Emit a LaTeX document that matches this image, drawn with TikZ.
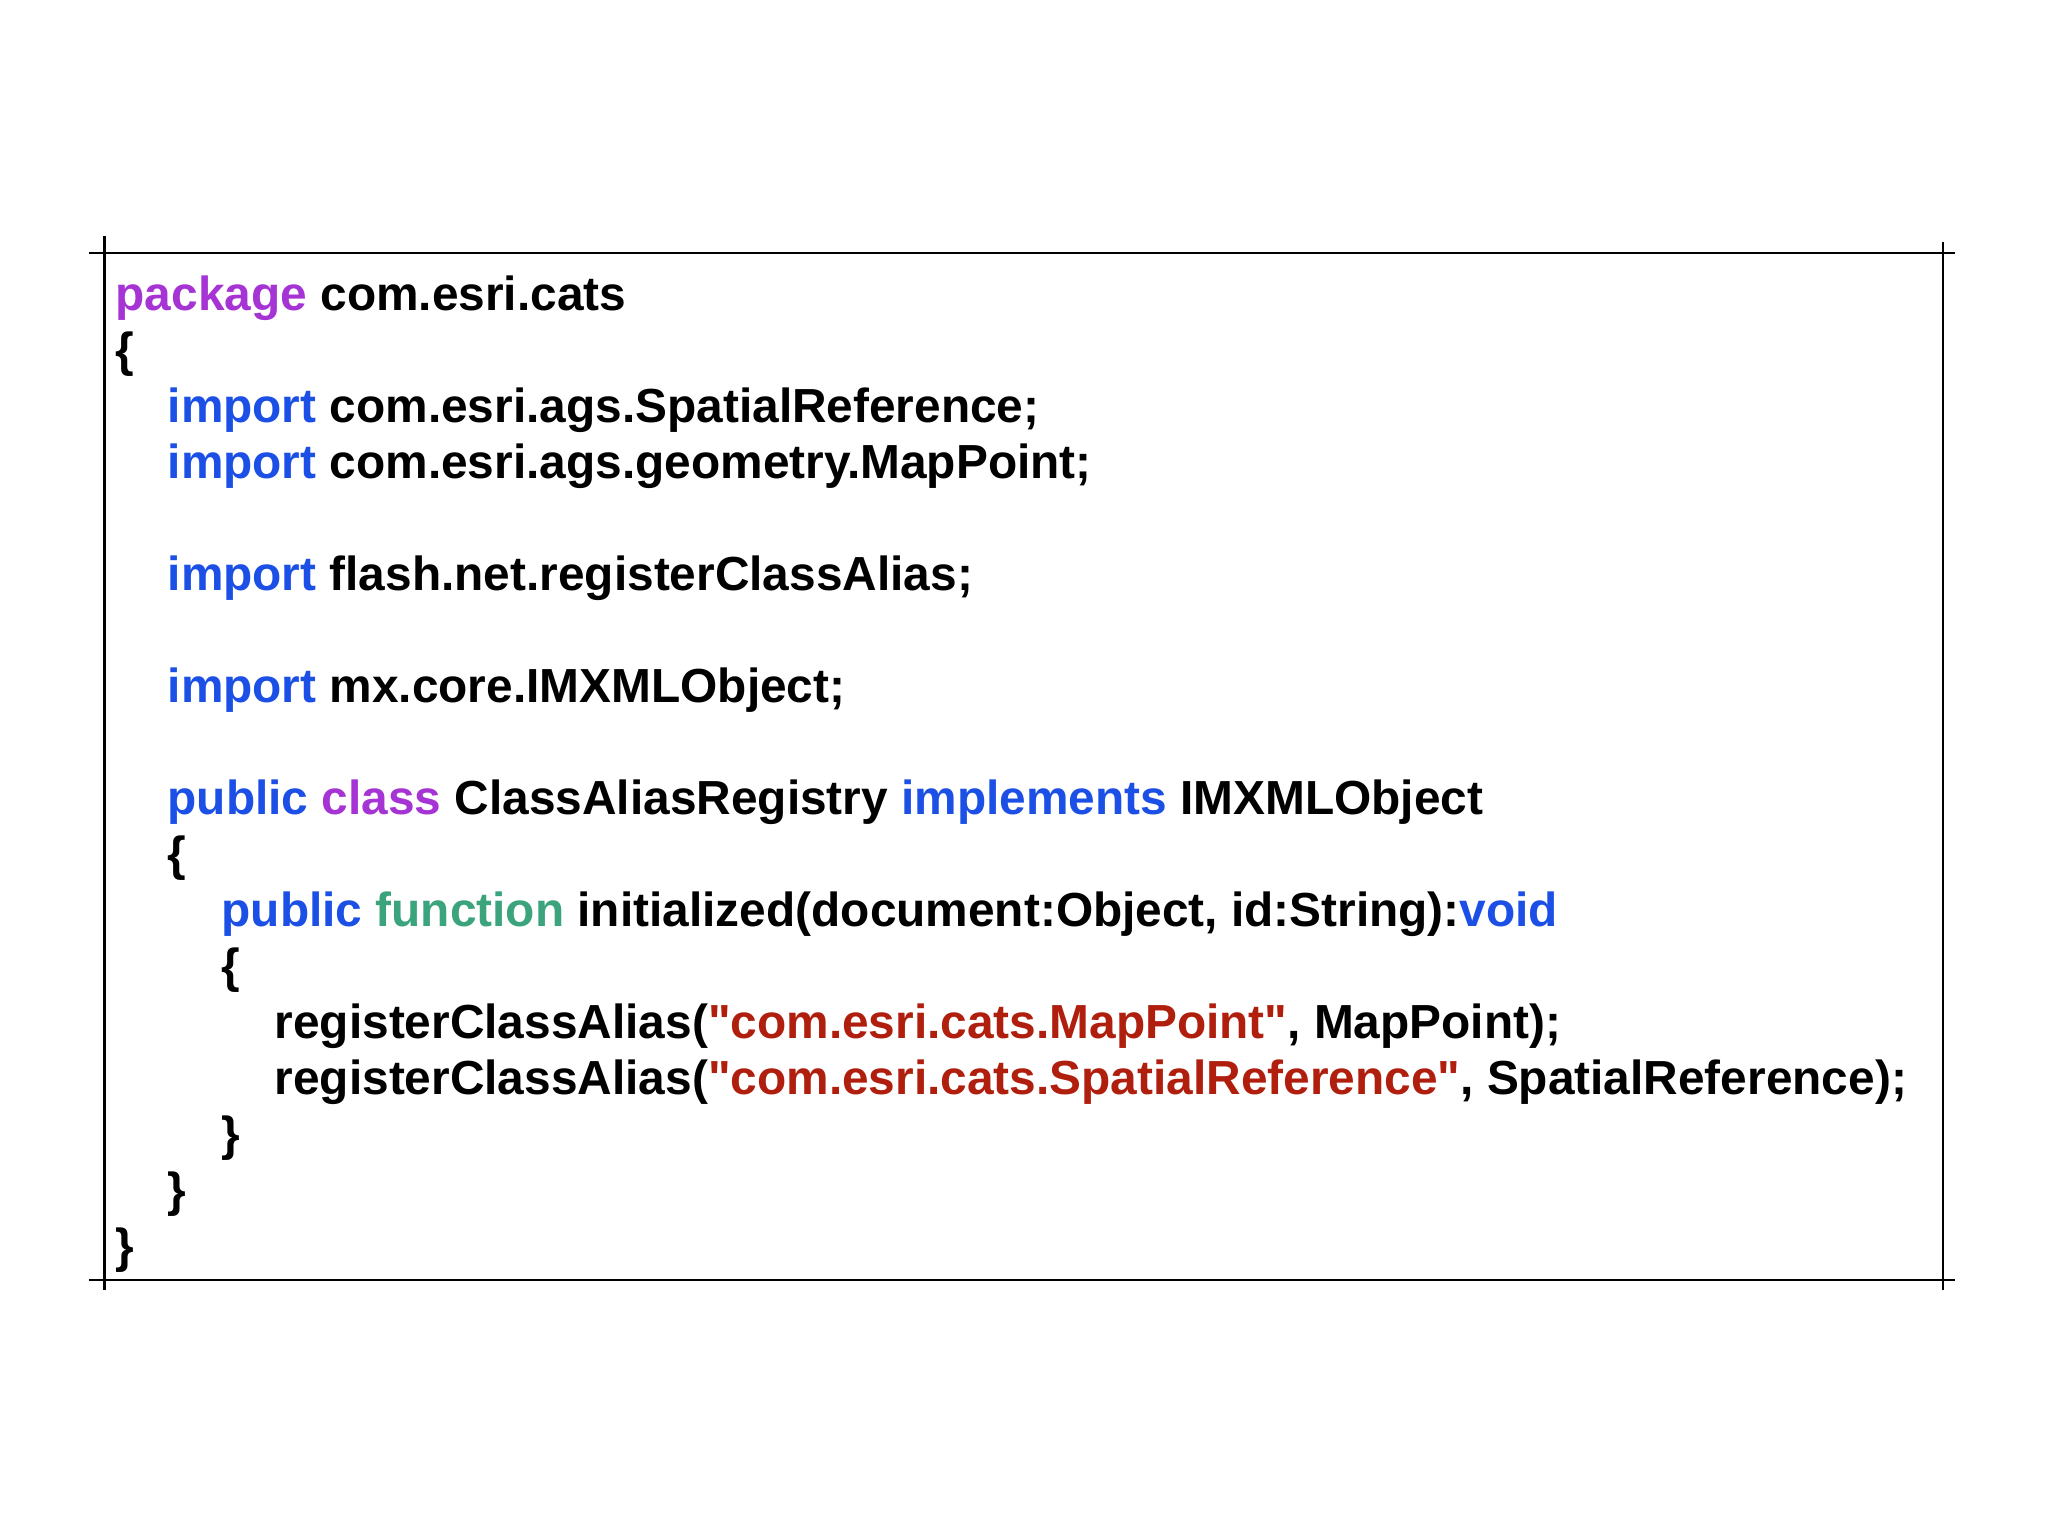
\documentclass[tikz,border=0pt]{standalone}
\usepackage{fontspec}
\setmainfont{Liberation Sans}
\definecolor{kwpurple}{HTML}{A634D4}
\definecolor{kwblue}{HTML}{1B4FE6}
\definecolor{kwgreen}{HTML}{3CA47C}
\definecolor{strred}{HTML}{B01E0E}
\newcommand{\kp}[1]{\textcolor{kwpurple}{#1}}
\newcommand{\kb}[1]{\textcolor{kwblue}{#1}}
\newcommand{\kg}[1]{\textcolor{kwgreen}{#1}}
\newcommand{\ks}[1]{\textcolor{strred}{\textquotedbl#1\textquotedbl}}
\begin{document}
\begin{tikzpicture}[x=0.01cm,y=0.01cm,
  code/.style={anchor=base west,inner sep=0pt,font=\fontsize{13.6}{16}\selectfont\bfseries},
  frame/.style={line width=0.8pt,black}]
\useasboundingbox (0,0) rectangle (2048,1536);
\fill[white] (0,0) rectangle (2048,1536);
% frame
\coordinate (tl) at (89,1283);
\coordinate (tr) at (1955,1283);
\coordinate (bl) at (89,256);
\coordinate (br) at (1955,256);
\draw[frame] (tl) -- (tr);
\draw[frame] (bl) -- (br);
\draw[frame] (104.5,1300) -- (104.5,246);
\draw[frame] (1943,1294) -- (1943,246);
\def\Lz{115}\def\Lo{167}\def\Lt{221}\def\Lh{274}
\node[code] (l1) at (\Lz,1225) {\kp{package} com.esri.cats};
\node[code] (l2) at (\Lz,1169) {\{};
\node[code] (l3) at (\Lo,1113) {\kb{import} com.esri.ags.SpatialReference;};
\node[code] (l4) at (\Lo,1057) {\kb{import} com.esri.ags.geometry.MapPoint;};
\node[code] (l5) at (\Lo,945) {\kb{import} flash.net.registerClassAlias;};
\node[code] (l6) at (\Lo,833) {\kb{import} mx.core.IMXMLObject;};
\node[code] (l7) at (\Lo,721) {\kb{public} \kp{class} ClassAliasRegistry \kb{implements} IMXMLObject};
\node[code] (l8) at (\Lo,665) {\{};
\node[code] (l9) at (\Lt,609) {\kb{public} \kg{function} initialized(document:Object, id:String):\kb{void}};
\node[code] (l10) at (\Lt,553) {\{};
\node[code] (l11) at (\Lh,497) {registerClassAlias(\ks{com.esri.cats.MapPoint}, MapPoint);};
\node[code] (l12) at (\Lh,441) {registerClassAlias(\ks{com.esri.cats.SpatialReference}, SpatialReference);};
\node[code] (l13) at (\Lt,385) {\}};
\node[code] (l14) at (\Lo,329) {\}};
\node[code] (l15) at (\Lz,273) {\}};
\end{tikzpicture}
\end{document}
